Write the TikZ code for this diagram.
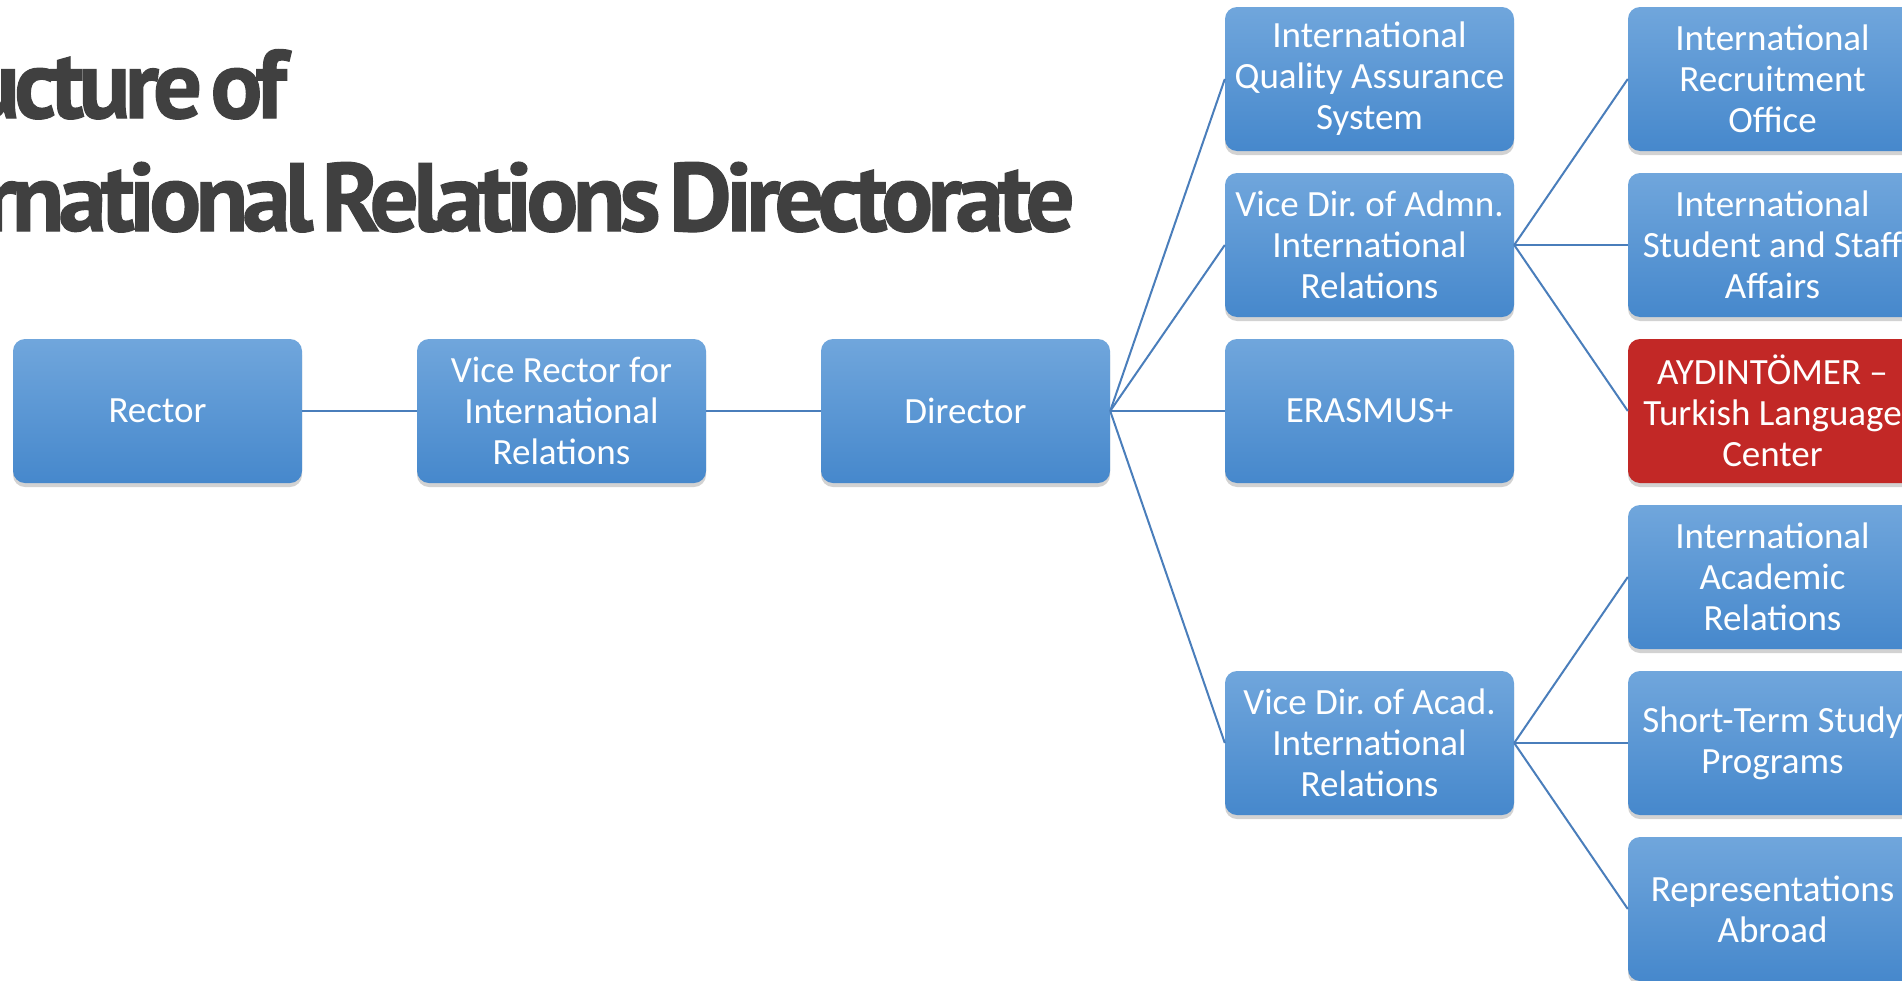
\documentclass[tikz,border=0pt]{standalone}
\usepackage{fontspec}
\setmainfont{Carlito}
\newfontfamily\titlefont[LetterSpace=-6,WordSpace=0.45,FakeBold=1.2]{PT Sans}
\usetikzlibrary{shadows}
\definecolor{linkblue}{RGB}{74,126,187}
\definecolor{boxtop}{RGB}{112,166,220}
\definecolor{boxbot}{RGB}{70,136,204}
\definecolor{boxred}{RGB}{194,40,38}
\definecolor{titlegray}{RGB}{64,64,64}
\frenchspacing
\begin{document}
\begin{tikzpicture}[x=1pt,y=-1pt,
  orgbox/.style={rounded corners=12pt, minimum width=289pt, minimum height=144pt,
    inner sep=0pt, align=center, text=white, top color=boxtop, bottom color=boxbot,
    font=\fontsize{37}{41}\selectfont,
    drop shadow={opacity=0.35, shadow xshift=0pt, shadow yshift=-4pt}},
  redbox/.style={orgbox, top color=boxred, bottom color=boxred},
  link/.style={draw=linkblue, line width=2pt},
  titletext/.style={inner sep=0pt, text=titlegray, font=\titlefont\bfseries\fontsize{97}{100}\selectfont}]
\fill[white] (0,0) rectangle (1902,980);
\useasboundingbox (0,0) rectangle (1902,980);
\clip (0,0) rectangle (1902,980);

\node[titletext, anchor=base east] (t2) at (1075,231) {International Relations Directorate};
\node[titletext, anchor=base east] (t1) at (287,118) {Structure of};

\node[orgbox] (rector) at (157.5,411) {Rector};
\node[orgbox] (vrector) at (561.5,411) {Vice Rector for\\International\\Relations};
\node[orgbox] (director) at (965.5,411) {Director};

\node[orgbox] (iqas) at (1369.5,79) {International\\Quality Assurance\\System};
\node[orgbox] (admn) at (1369.5,245) {Vice Dir. of Admn.\\International\\Relations};
\node[orgbox] (erasmus) at (1369.5,411) {ERASMUS+};
\node[orgbox] (acad) at (1369.5,743) {Vice Dir. of Acad.\\International\\Relations};

\node[orgbox] (iro) at (1772.5,79) {International\\Recruitment\\Office};
\node[orgbox] (issa) at (1772.5,245) {International\\Student and Staff\\Affairs};
\node[redbox] (tomer) at (1772.5,411) {AYDINTÖMER –\\Turkish Language\\Center};
\node[orgbox] (iar) at (1772.5,577) {International\\Academic\\Relations};
\node[orgbox] (stsp) at (1772.5,743) {Short-Term Study\\Programs};
\node[orgbox] (rep) at (1772.5,909) {Representations\\Abroad};

\draw[link] (rector.east) -- (vrector.west);
\draw[link] (vrector.east) -- (director.west);
\foreach \n in {iqas,admn,erasmus,acad} \draw[link] (director.east) -- (\n.west);
\foreach \n in {iro,issa,tomer} \draw[link] (admn.east) -- (\n.west);
\foreach \n in {iar,stsp,rep} \draw[link] (acad.east) -- (\n.west);
\end{tikzpicture}
\end{document}
